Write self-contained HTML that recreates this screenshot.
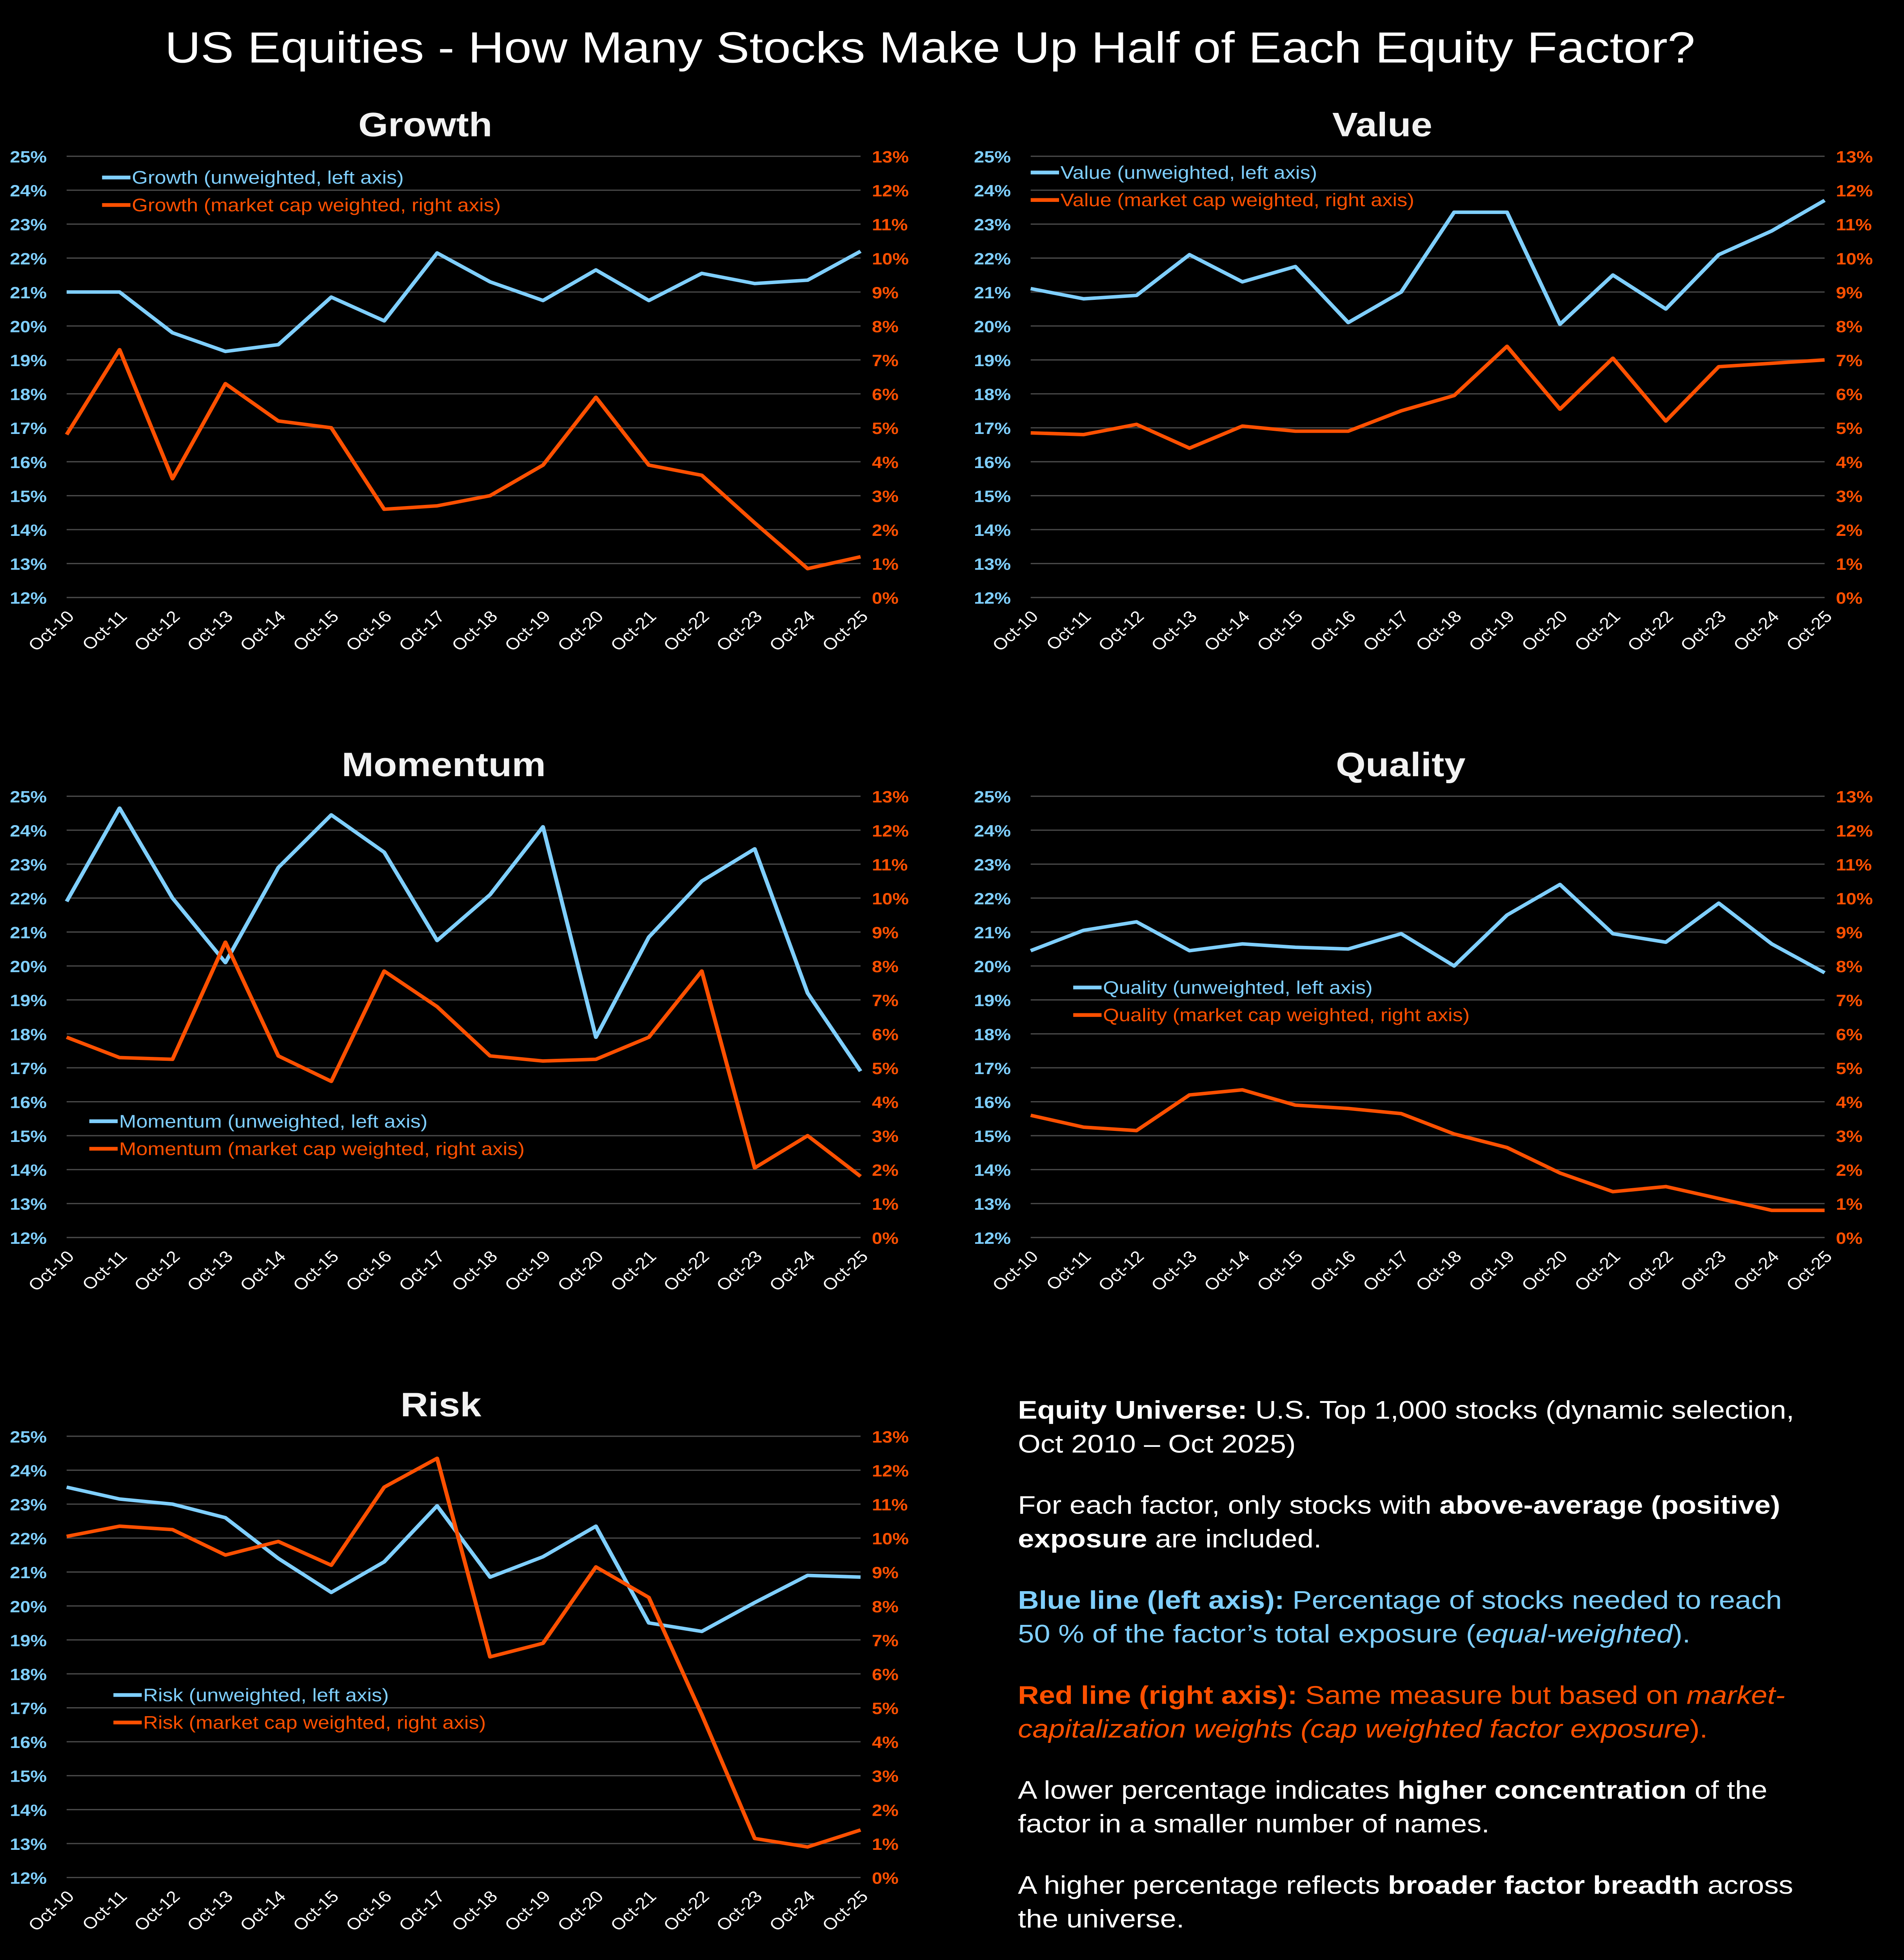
<!DOCTYPE html>
<html><head><meta charset="utf-8">
<style>
html,body{margin:0;padding:0;background:#000;overflow:hidden;width:100vw;height:100vh;}
svg{display:block;width:100vw;height:100vh;}
text{font-family:"Liberation Sans",sans-serif;}
</style></head>
<body>
<svg id="root" viewBox="0 0 1343 1568" preserveAspectRatio="none" xmlns="http://www.w3.org/2000/svg">
<rect width="1343" height="1568" fill="#000"/>
<text x="656" y="50" text-anchor="middle" fill="#fff" font-size="35">US Equities - How Many Stocks Make Up Half of Each Equity Factor?</text>
<g id="charts"></g>
<g font-size="20.5" fill="#fff">
<text x="718" y="1135"><tspan font-weight="bold">Equity Universe:</tspan> U.S. Top 1,000 stocks (dynamic selection,</text>
<text x="718" y="1162">Oct 2010 – Oct 2025)</text>
<text x="718" y="1211">For each factor, only stocks with <tspan font-weight="bold">above-average (positive)</tspan></text>
<text x="718" y="1238"><tspan font-weight="bold">exposure</tspan> are included.</text>
<text x="718" y="1287" fill="#7fcfff"><tspan font-weight="bold">Blue line (left axis):</tspan> Percentage of stocks needed to reach</text>
<text x="718" y="1314" fill="#7fcfff">50 % of the factor’s total exposure (<tspan font-style="italic">equal-weighted</tspan>).</text>
<text x="718" y="1363" fill="#ff5000"><tspan font-weight="bold">Red line (right axis):</tspan> Same measure but based on <tspan font-style="italic">market-</tspan></text>
<text x="718" y="1390" fill="#ff5000" font-style="italic">capitalization weights (cap weighted  factor exposure<tspan font-style="normal">).</tspan></text>
<text x="718" y="1439">A lower percentage indicates <tspan font-weight="bold">higher concentration</tspan> of the</text>
<text x="718" y="1466">factor in a smaller number of names.</text>
<text x="718" y="1515">A higher percentage reflects <tspan font-weight="bold">broader factor breadth</tspan> across</text>
<text x="718" y="1542">the universe.</text>
</g>
</svg>
<script>
const categories = ["Oct-10","Oct-11","Oct-12","Oct-13","Oct-14","Oct-15","Oct-16","Oct-17","Oct-18","Oct-19","Oct-20","Oct-21","Oct-22","Oct-23","Oct-24","Oct-25"];
const leftTicks = [12,13,14,15,16,17,18,19,20,21,22,23,24,25];
const rightTicks = [0,1,2,3,4,5,6,7,8,9,10,11,12,13];
const growthBlue = [21.0,21.0,19.8,19.25,19.45,20.85,20.15,22.15,21.3,20.75,21.65,20.75,21.55,21.25,21.35,22.2];
const growthRed = [4.8,7.3,3.5,6.3,5.2,5.0,2.6,2.7,3.0,3.9,5.9,3.9,3.6,2.2,0.85,1.2];
const valueBlue = [21.1,20.8,20.9,22.1,21.3,21.75,20.1,21.0,23.35,23.35,20.05,21.5,20.5,22.1,22.8,23.7];
const valueRed = [4.85,4.8,5.1,4.4,5.05,4.9,4.9,5.5,5.95,7.4,5.55,7.05,5.2,6.8,6.9,7.0];
const momentumBlue = [21.9,24.65,22.0,20.1,22.9,24.45,23.35,20.75,22.1,24.1,17.9,20.85,22.5,23.45,19.2,16.9];
const momentumRed = [5.9,5.3,5.25,8.7,5.35,4.6,7.85,6.8,5.35,5.2,5.25,5.9,7.85,2.05,3.0,1.8];
const qualityBlue = [20.45,21.05,21.3,20.45,20.65,20.55,20.5,20.95,20.0,21.5,22.4,20.95,20.7,21.85,20.65,19.8];
const qualityRed = [3.6,3.25,3.15,4.2,4.35,3.9,3.8,3.65,3.05,2.65,1.9,1.35,1.5,1.15,0.8,0.8];
const riskBlue = [23.5,23.15,23.0,22.6,21.4,20.4,21.3,22.95,20.85,21.45,22.35,19.5,19.25,20.1,20.9,20.85];
const riskRed = [10.05,10.35,10.25,9.5,9.9,9.2,11.5,12.35,6.5,6.9,9.15,8.25,4.8,1.15,0.9,1.4];

const NS = "http://www.w3.org/2000/svg";
const BLUE = "#7fcfff", RED = "#ff5000";
function mk(tag, attrs, parent){const e=document.createElementNS(NS,tag);for(const k in attrs)e.setAttribute(k,attrs[k]);parent.appendChild(e);return e;}

const panels = [
 {name:"Growth", x0:47, y0:125, blue:growthBlue, red:growthRed, lx:72, ly:142, tx:300},
 {name:"Value", x0:727, y0:125, blue:valueBlue, red:valueRed, lx:727, ly:138, tx:975},
 {name:"Momentum", x0:47, y0:637, blue:momentumBlue, red:momentumRed, lx:63, ly:897, tx:313},
 {name:"Quality", x0:727, y0:637, blue:qualityBlue, red:qualityRed, lx:757, ly:790, tx:988},
 {name:"Risk", x0:47, y0:1149, blue:riskBlue, red:riskRed, lx:80, ly:1356, tx:311}
];
const root = document.getElementById("charts");
panels.forEach(p=>{
  const W=560, H=353;
  const g = mk("g",{},root);
  
  
  const xs = i => p.x0 + i*W/(categories.length-1);
  const yl = v => p.y0 + H - (v-leftTicks[0])/(leftTicks[leftTicks.length-1]-leftTicks[0])*H;
  const yr = v => p.y0 + H - (v-rightTicks[0])/(rightTicks[rightTicks.length-1]-rightTicks[0])*H;
  const t = mk("text",{x:p.tx,y:p.y0-16,"text-anchor":"middle",fill:"#f2f2f2","font-size":27,"font-weight":"bold"},g);
  t.textContent = p.name;
  
  
  leftTicks.forEach(v=>{
    const l = mk("line",{x1:p.x0,x2:p.x0+W,y1:yl(v),y2:yl(v),stroke:"#4a4a4a","stroke-width":1},g);
    
    
    const tx = mk("text",{x:p.x0-14,y:yl(v)+5,"text-anchor":"end",fill:BLUE,"font-size":13,"font-weight":"bold"},g);
    tx.textContent = v+"%";
    
    
  });
  rightTicks.forEach(v=>{
    const tx = mk("text",{x:p.x0+W+8,y:yr(v)+5,fill:RED,"font-size":13,"font-weight":"bold"},g);
    tx.textContent = v+"%";
    
    
  });
  categories.forEach((c,i)=>{
    const tx = mk("text",{x:xs(i)+6,y:p.y0+H+16,"text-anchor":"end",fill:"#fff","font-size":13,transform:`rotate(-45 ${xs(i)+6} ${p.y0+H+16})`},g);
    tx.textContent = c;
    
    
  });
  const pb = mk("polyline",{points:p.blue.map((v,i)=>xs(i)+","+yl(v)).join(" "),fill:"none",stroke:BLUE,"stroke-width":2.8,"stroke-linejoin":"round"},g);
  
  
  const pr = mk("polyline",{points:p.red.map((v,i)=>xs(i)+","+yr(v)).join(" "),fill:"none",stroke:RED,"stroke-width":2.8,"stroke-linejoin":"round"},g);
  
  
  [[BLUE,`${p.name} (unweighted, left axis)`],[RED,`${p.name} (market  cap weighted, right axis)`]].forEach((e,k)=>{
    const lg = mk("g",{},g);
    
    
    mk("line",{x1:p.lx,x2:p.lx+20,y1:p.ly+k*22,y2:p.ly+k*22,stroke:e[0],"stroke-width":3},lg);
    const lt = mk("text",{x:p.lx+21,y:p.ly+k*22+5,fill:e[0],"font-size":14.5},lg);
    lt.textContent = e[1];
  });
});
</script>
</body></html>
